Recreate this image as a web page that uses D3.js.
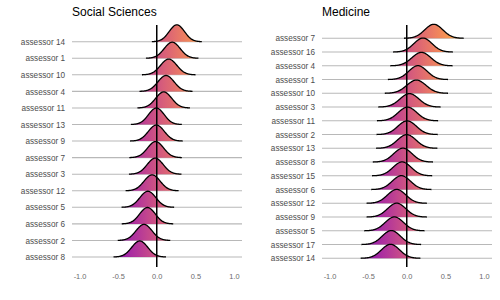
<!DOCTYPE html>
<html>
<head>
<meta charset="utf-8">
<script src="https://cdn.jsdelivr.net/npm/d3@7"></script>
<style>
  body { margin: 0; background: #fff; }
  svg { font-family: "Liberation Sans", Arial, sans-serif; }
</style>
</head>
<body>
<div id="chart"></div>
<script>
// Social Sciences panel, top row first
const ssAssessors = ["assessor 14", "assessor 1", "assessor 10", "assessor 4", "assessor 11", "assessor 13",
  "assessor 9", "assessor 7", "assessor 3", "assessor 12", "assessor 5", "assessor 6", "assessor 2", "assessor 8"];
const ssMeans = [0.26, 0.2, 0.155, 0.12, 0.09, -0.005, -0.005, -0.015, -0.02, -0.06, -0.115, -0.12, -0.165, -0.22];
const ssSds = [0.098, 0.103, 0.105, 0.104, 0.103, 0.1, 0.103, 0.103, 0.103, 0.104, 0.103, 0.101, 0.103, 0.103];

// Medicine panel, top row first
const medAssessors = ["assessor 7", "assessor 16", "assessor 4", "assessor 1", "assessor 10", "assessor 3",
  "assessor 11", "assessor 2", "assessor 13", "assessor 8", "assessor 15", "assessor 6", "assessor 12",
  "assessor 9", "assessor 5", "assessor 17", "assessor 14"];
const medMeans = [0.35, 0.21, 0.19, 0.145, 0.125, 0.035, 0.01, 0.005, 0.0, -0.05, -0.06, -0.07, -0.13, -0.13, -0.16, -0.2, -0.21];
const medSds = [0.117, 0.117, 0.122, 0.118, 0.124, 0.122, 0.12, 0.12, 0.12, 0.118, 0.118, 0.118, 0.118, 0.118, 0.118, 0.117, 0.117];

const xTicks = [-1, -0.5, 0, 0.5, 1];

const width = 500, height = 300;

const svg = d3.select("#chart")
  .append("svg")
  .attr("width", width)
  .attr("height", height);

const defs = svg.append("defs");

// fill colour follows x, plasma palette
const color = d3.scaleSequential(d3.interpolatePlasma).domain([-1.15, 1.15]);

function drawPanel(id, title, rows, means, sds, left, top, bottom) {
  const x = d3.scaleLinear().domain([-1, 1]).range([left + 7.5, left + 162]);
  const x0 = x.invert(left), x1 = x.invert(left + 170);
  const y = d3.scalePoint().domain(rows).range([top, bottom]);
  const step = y.step();

  // density curves, trimmed at about 3.3 sd
  const curves = rows.map((r, i) => {
    const m = means[i], s = sds[i];
    const pts = d3.range(-3.3, 3.3001, 0.05).map(z => {
      return {x: m + z * s, d: Math.exp(-0.5 * z * z) / (s * Math.sqrt(2 * Math.PI))};
    });
    return {row: r, pts: pts};
  });
  const maxD = d3.max(curves, c => d3.max(c.pts, p => p.d));
  const h = d3.scaleLinear().domain([0, maxD]).range([0, step * 1.02]);

  const grad = defs.append("linearGradient")
    .attr("id", id)
    .attr("gradientUnits", "userSpaceOnUse")
    .attr("x1", x(x0)).attr("x2", x(x1))
    .attr("y1", 0).attr("y2", 0);
  d3.range(0, 1.0001, 0.02).forEach(t => {
    grad.append("stop")
      .attr("offset", t)
      .attr("stop-color", color(x0 + t * (x1 - x0)));
  });

  const g = svg.append("g");

  g.append("text")
    .attr("x", left)
    .attr("y", 16)
    .style("font-size", "12px")
    .attr("fill", "#000")
    .text(title);

  // baselines
  g.selectAll(".grid")
    .data(rows)
    .enter()
    .append("line")
    .attr("x1", left)
    .attr("x2", left + 170)
    .attr("y1", d => y(d))
    .attr("y2", d => y(d))
    .attr("stroke", "#b8b8b8")
    .attr("stroke-width", 1.1);

  const area = d3.area()
    .x(p => x(p.x))
    .y0(0)
    .y1(p => -h(p.d))
    .curve(d3.curveBasis);
  const line = d3.line()
    .x(p => x(p.x))
    .y(p => -h(p.d))
    .curve(d3.curveBasis);

  const ridge = g.selectAll(".ridge")
    .data(curves)
    .enter()
    .append("g")
    .attr("transform", c => "translate(0," + y(c.row) + ")");

  ridge.append("path")
    .attr("d", c => area(c.pts))
    .attr("fill", "url(#" + id + ")")
    .attr("fill-opacity", 0.93);

  ridge.append("path")
    .attr("d", c => line(c.pts))
    .attr("fill", "none")
    .attr("stroke", "#000")
    .attr("stroke-width", 1.3);

  // zero line
  g.append("line")
    .attr("x1", x(0)).attr("x2", x(0))
    .attr("y1", 25).attr("y2", 267)
    .attr("stroke", "#000")
    .attr("stroke-width", 1.5);

  const yAxis = g.append("g")
    .attr("transform", "translate(" + left + ",0)")
    .call(d3.axisLeft(y).tickSize(0).tickPadding(7));
  yAxis.select(".domain").remove();
  yAxis.selectAll("text")
    .style("font-size", "8.2px")
    .style("font-family", "Liberation Sans, Arial, sans-serif")
    .attr("fill", "#4d4d4d");

  const xAxis = g.append("g")
    .attr("transform", "translate(0,271)")
    .call(d3.axisBottom(x).tickValues(xTicks).tickSize(0).tickFormat(d => d.toFixed(1)));
  xAxis.select(".domain").remove();
  xAxis.selectAll("text")
    .style("font-size", "7.4px")
    .style("font-family", "Liberation Sans, Arial, sans-serif")
    .attr("fill", "#6b6b6b");
}

drawPanel("gradSS", "Social Sciences", ssAssessors, ssMeans, ssSds, 72, 41.7, 257);
drawPanel("gradMed", "Medicine", medAssessors, medMeans, medSds, 322, 38.3, 258.3);
</script>
</body>
</html>
